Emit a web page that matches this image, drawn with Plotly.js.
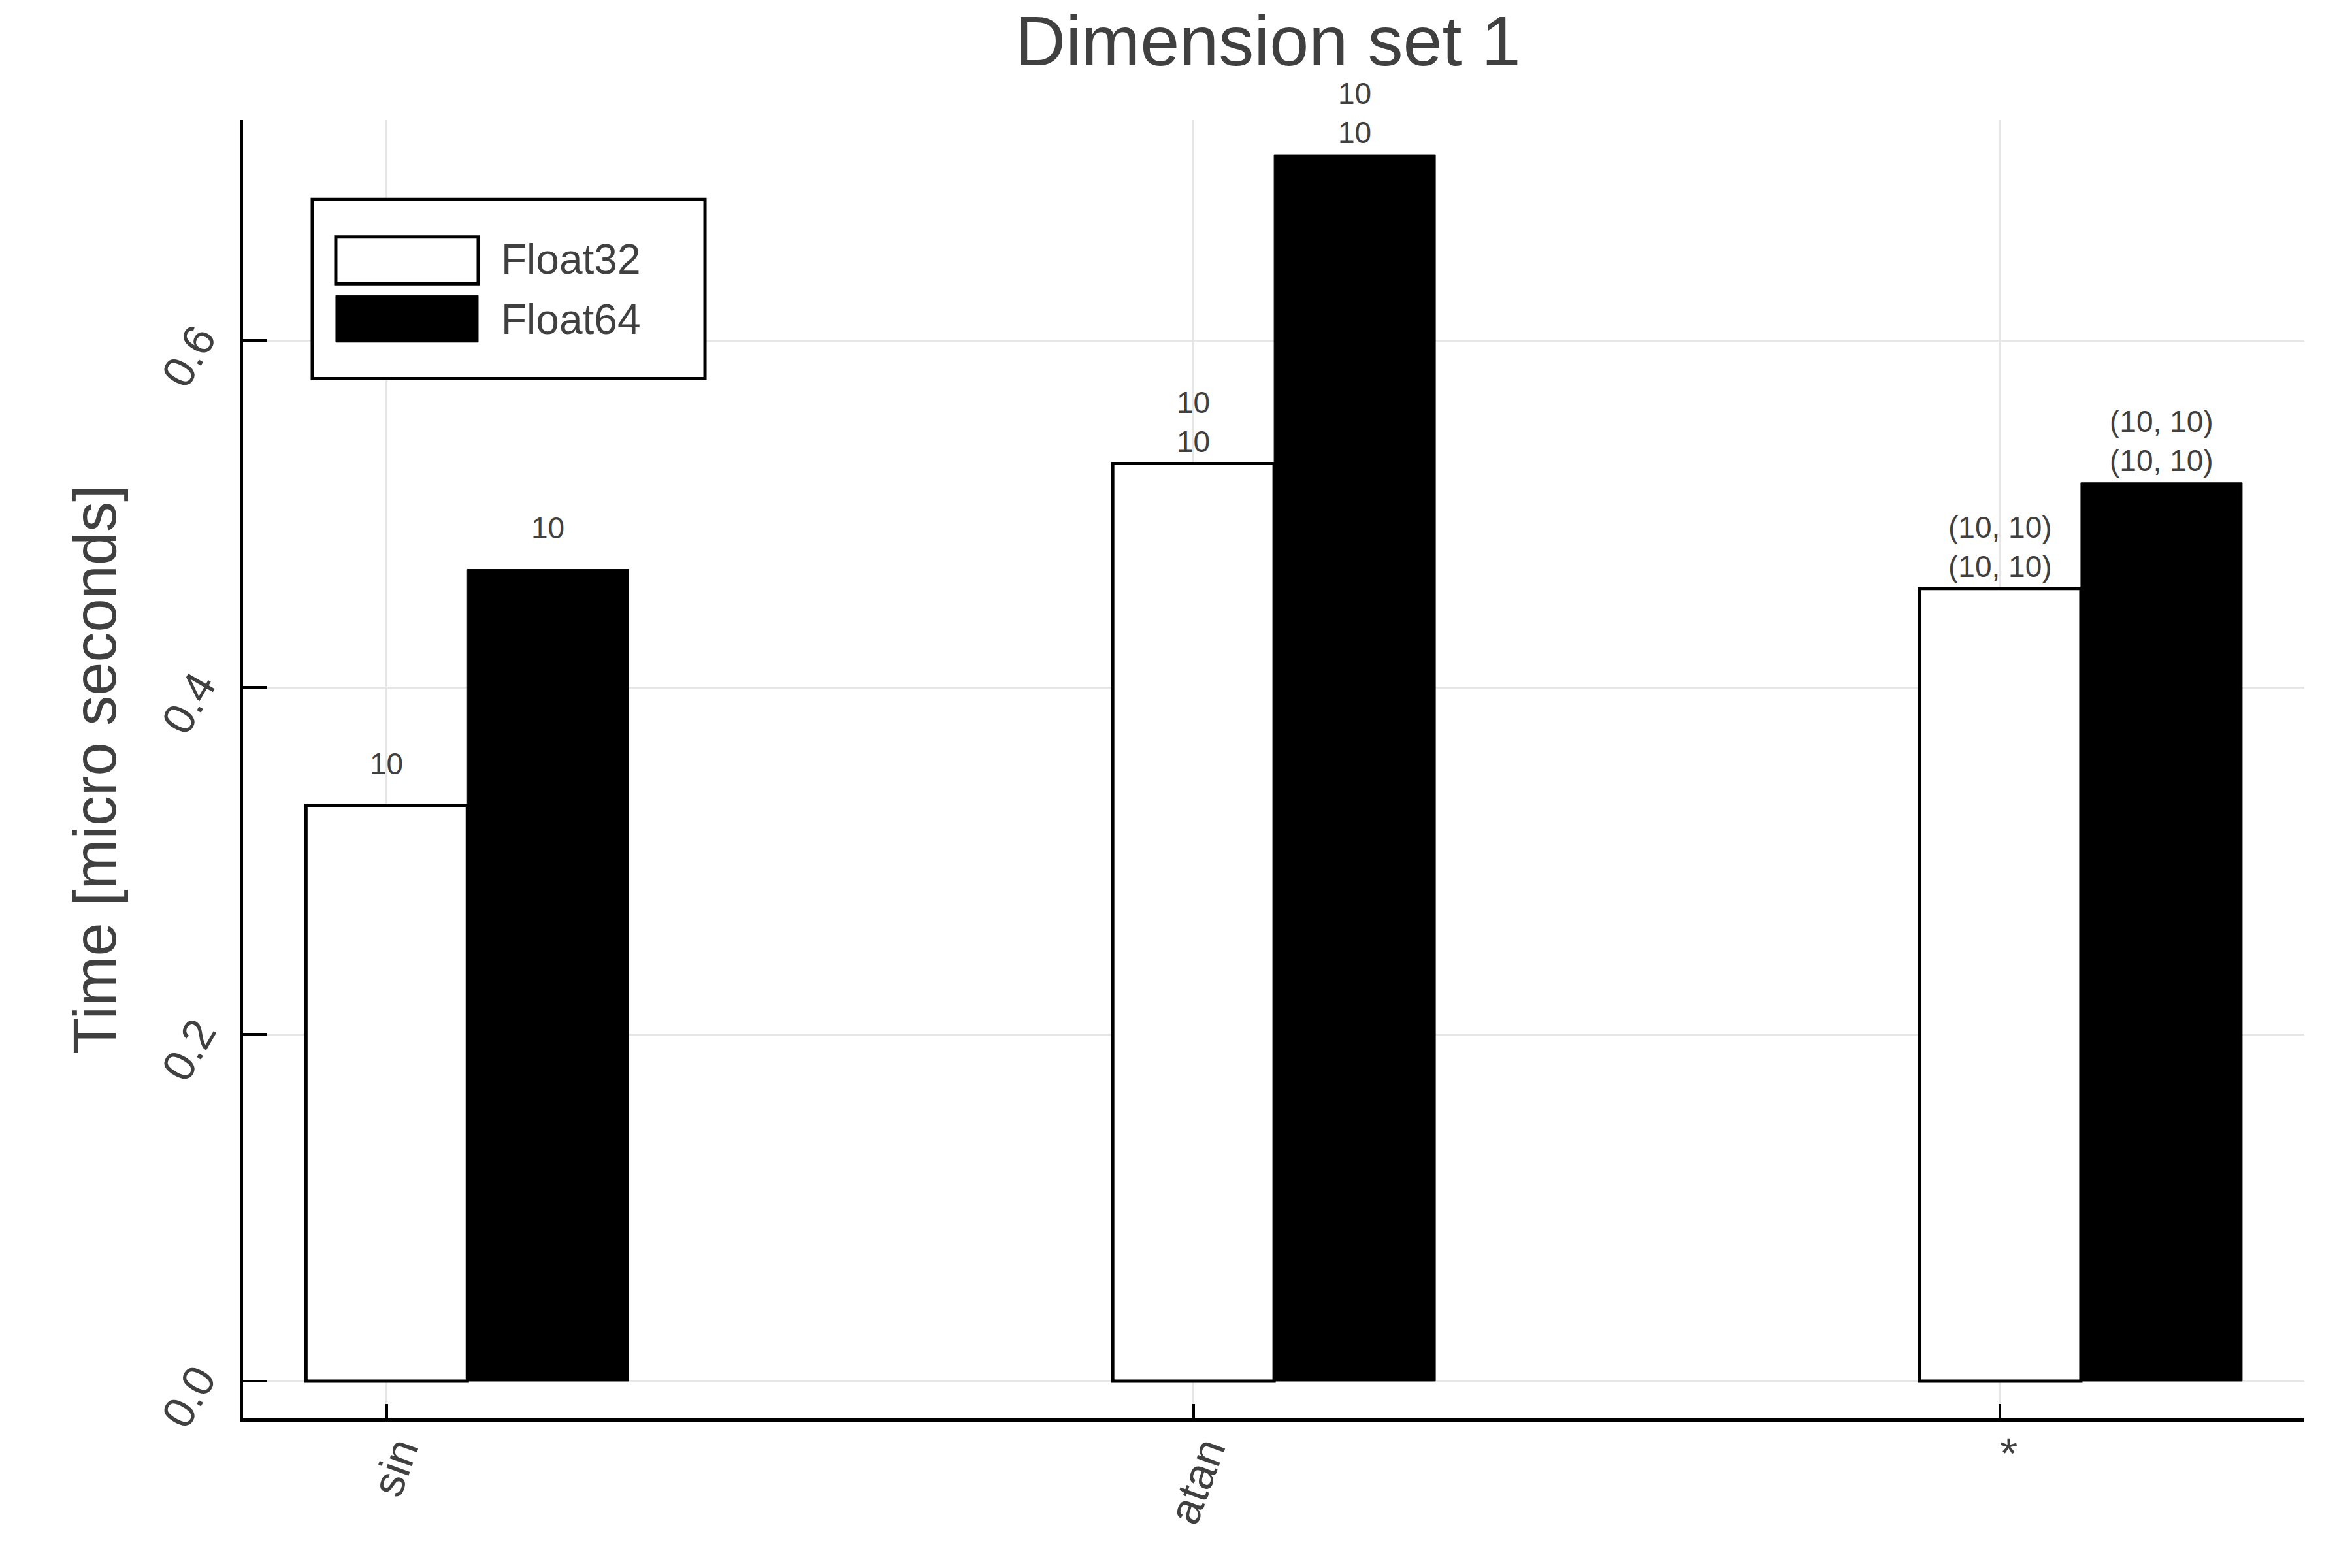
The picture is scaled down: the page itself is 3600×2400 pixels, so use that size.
<!DOCTYPE html>
<html>
<head>
<meta charset="utf-8">
<script src="https://cdn.plot.ly/plotly-3.0.1.min.js"></script>
<style>html,body{margin:0;padding:0;background:#fff;}#chart{width:3600px;height:2400px;}</style>
</head>
<body>
<div id="chart"></div>
<script>
// ---- data ----
const categories = ["sin", "atan", "*"];
const seriesNames = ["Float32", "Float64"];
const float32Times = [0.332, 0.529, 0.457];
const float64Times = [0.468, 0.707, 0.518];
const float32Labels = ["10", "10<br>10", "(10, 10)<br>(10, 10)"];
const float64Labels = ["10", "10<br>10", "(10, 10)<br>(10, 10)"];
const yTickVals = [0.0, 0.2, 0.4, 0.6];
const yTickText = ["0.0", "0.2", "0.4", "0.6"];
const yTitle = "Time [micro seconds]";
const chartTitle = "Dimension set 1";

// ---- styling ----
const FONT = '"Liberation Sans", Arial, sans-serif';
const TXT = '#404040';
const offset = 0.2;
const barW = 0.2;
const catPos = categories.map((c, i) => i);
const pos64 = catPos.map(p => p + offset);

const traces = [
  {
    type: 'bar', name: seriesNames[0], x: catPos, y: float32Times, width: barW,
    marker: {color: '#ffffff', line: {color: '#000000', width: 5}},
    showlegend: false, hoverinfo: 'y'
  },
  {
    type: 'bar', name: seriesNames[1], x: pos64, y: float64Times, width: barW,
    marker: {color: '#000000', line: {color: '#000000', width: 1}},
    showlegend: false, hoverinfo: 'y'
  }
];

const annotations = [];
float32Times.forEach((v, i) => annotations.push({
  x: catPos[i], y: v, xref: 'x', yref: 'y', text: float32Labels[i], showarrow: false,
  yanchor: 'middle', yshift: 64, font: {family: FONT, size: 46, color: TXT}
}));
float64Times.forEach((v, i) => annotations.push({
  x: pos64[i], y: v, xref: 'x', yref: 'y', text: float64Labels[i], showarrow: false,
  yanchor: 'middle', yshift: 64, font: {family: FONT, size: 46, color: TXT}
}));
// legend text
annotations.push({xref: 'paper', yref: 'paper', x: 0.1246, y: 0.893, xanchor: 'left', yanchor: 'middle',
  text: seriesNames[0], showarrow: false, font: {family: FONT, size: 64, color: TXT}});
annotations.push({xref: 'paper', yref: 'paper', x: 0.1246, y: 0.8465, xanchor: 'left', yanchor: 'middle',
  text: seriesNames[1], showarrow: false, font: {family: FONT, size: 64, color: TXT}});
// y axis title
annotations.push({xref: 'paper', yref: 'paper', x: -0.072, y: 0.50, xanchor: 'center', yanchor: 'middle',
  textangle: -90, text: yTitle, showarrow: false, font: {family: FONT, size: 92, color: TXT}});

const shapes = [
  {type: 'rect', xref: 'paper', yref: 'paper', x0: 0.0336, x1: 0.2241, y0: 0.801, y1: 0.939,
   fillcolor: '#ffffff', line: {color: '#000000', width: 5}, layer: 'above'},
  {type: 'rect', xref: 'paper', yref: 'paper', x0: 0.0450, x1: 0.1141, y0: 0.874, y1: 0.910,
   fillcolor: '#ffffff', line: {color: '#000000', width: 5}, layer: 'above'},
  {type: 'rect', xref: 'paper', yref: 'paper', x0: 0.0450, x1: 0.1141, y0: 0.829, y1: 0.865,
   fillcolor: '#000000', line: {color: '#000000', width: 1}, layer: 'above'}
];

const layout = {
  width: 3600, height: 2400,
  margin: {l: 372, r: 73, t: 184, b: 229, pad: 0},
  paper_bgcolor: '#ffffff', plot_bgcolor: '#ffffff',
  barmode: 'overlay',
  showlegend: false,
  font: {family: FONT, color: TXT},
  title: {text: chartTitle, font: {family: FONT, size: 108, color: TXT},
          x: 0.539, xanchor: 'center', y: 0.974, yanchor: 'middle'},
  xaxis: {
    range: [-0.178, 2.377], tickmode: 'array', tickvals: catPos, ticktext: categories,
    tickangle: -70, tickfont: {family: FONT, size: 68, color: TXT},
    ticklabelstandoff: -22, ticklabelshift: 18,
    showgrid: true, gridcolor: '#e6e6e6', gridwidth: 3,
    showline: true, linecolor: '#000000', linewidth: 5, mirror: false,
    ticks: 'inside', ticklen: 22, tickwidth: 4, tickcolor: '#000000',
    zeroline: false, automargin: false
  },
  yaxis: {
    range: [-0.0215, 0.727], tickmode: 'array', tickvals: yTickVals, ticktext: yTickText,
    tickangle: -60, tickfont: {family: FONT, size: 68, color: TXT},
    ticklabelstandoff: 50, ticklabelshift: -12,
    showgrid: true, gridcolor: '#e6e6e6', gridwidth: 3,
    showline: true, linecolor: '#000000', linewidth: 5, mirror: false,
    ticks: 'inside', ticklen: 36, tickwidth: 4, tickcolor: '#000000',
    zeroline: false, automargin: false
  },
  annotations: annotations,
  shapes: shapes
};

Plotly.newPlot('chart', traces, layout, {staticPlot: true, displayModeBar: false});
</script>
</body>
</html>
